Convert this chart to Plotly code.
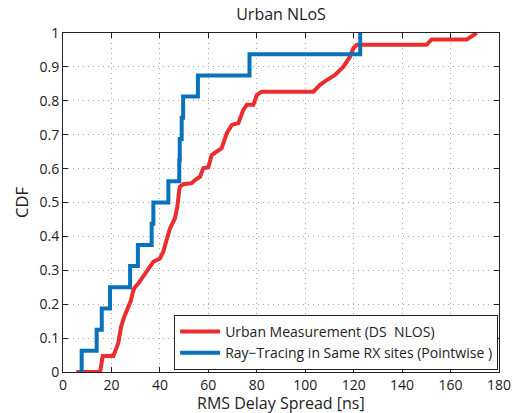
import plotly.graph_objects as go

# Measurement CDF (red) traced
meas_x = [5.5, 15.3, 16.4, 20.8, 22.8, 24.0, 25.3, 27.0, 28.0, 29.0, 29.7, 31.0, 32.5, 35.2, 37.3, 40.0, 41.4,
          42.8, 44.2, 46.2, 47.2, 48.0, 48.3, 49.7, 53.1, 54.5, 56.6, 57.9, 60.0, 61.4, 63.5, 65.5, 67.6, 69.7,
          72.4, 74.4, 75.9, 78.6, 80.0, 82.0, 103.4, 106.1, 108.9, 112.3, 115.7, 118.5, 119.9, 121.3, 150.1,
          152.2, 166.7, 169.4, 170.8]
meas_y = [0.0, 0.0, 0.047, 0.047, 0.085, 0.134, 0.163, 0.19, 0.21, 0.24, 0.25, 0.26, 0.276, 0.30, 0.325, 0.335,
          0.355, 0.39, 0.424, 0.453, 0.488, 0.537, 0.547, 0.554, 0.557, 0.566, 0.576, 0.601, 0.604, 0.64, 0.65,
          0.66, 0.704, 0.729, 0.734, 0.773, 0.788, 0.788, 0.817, 0.827, 0.827, 0.847, 0.861, 0.876, 0.90, 0.93,
          0.955, 0.965, 0.965, 0.981, 0.981, 0.992, 1.0]

# Ray tracing CDF (blue) step positions
ray_x = [7.7, 7.7, 13.9, 16.0, 19.4, 27.7, 30.9, 36.6, 37.3, 43.5, 48.0, 48.2, 49.0, 49.6, 55.7, 77.0, 122.7]
ray_y = [0.0, 0.0625, 0.125, 0.1875, 0.25, 0.3125, 0.375, 0.4375, 0.5, 0.5625, 0.625, 0.6875, 0.75,
         0.8125, 0.875, 0.9375, 1.0]

x_ticks = [0, 20, 40, 60, 80, 100, 120, 140, 160, 180]
y_ticks = [0, 0.1, 0.2, 0.3, 0.4, 0.5, 0.6, 0.7, 0.8, 0.9, 1]
y_labels = ["0", "0.1", "0.2", "0.3", "0.4", "0.5", "0.6", "0.7", "0.8", "0.9", "1"]

RED = "#EC2D2D"
BLUE = "#0A72BA"
FONT = "Open Sans"

fig = go.Figure()
fig.add_trace(go.Scatter(x=meas_x, y=meas_y, mode="lines", name="Urban Measurement (DS \u00a0NLOS)",
                         line=dict(color=RED, width=4)))
fig.add_trace(go.Scatter(x=ray_x, y=ray_y, mode="lines", line_shape="hv",
                         name="Ray\u2212Tracing in Same RX sites (Pointwise )",
                         line=dict(color=BLUE, width=4)))

axis_common = dict(showline=True, linecolor="#222", linewidth=1, mirror="ticks", ticks="inside",
                   ticklen=5, tickcolor="#222", showgrid=True, gridcolor="#a8a8a8", griddash="1px,4px",
                   gridwidth=1, zeroline=False, automargin=False,
                   tickfont=dict(family=FONT, size=14, color="#222"))

fig.update_xaxes(range=[0, 180], tickvals=x_ticks, ticktext=[str(v) for v in x_ticks], **axis_common)
fig.update_yaxes(range=[0, 1], tickvals=y_ticks, ticktext=y_labels,
                 title=dict(text="CDF", font=dict(family=FONT, size=16.5, color="#222"), standoff=6),
                 **axis_common)

# x-axis title as an annotation so it sits just below the tick labels
fig.add_annotation(text="RMS Delay Spread [ns]", xref="paper", yref="paper", x=0.5, xanchor="center",
                   y=-(416 - 372) / 339, yanchor="bottom", showarrow=False,
                   font=dict(family=FONT, size=16, color="#222"))

fig.update_layout(
    width=515, height=413,
    margin=dict(l=63, r=16, t=33, b=41, autoexpand=False),
    paper_bgcolor="white", plot_bgcolor="white",
    title=dict(text="Urban NLoS", x=(63 + 499) / 2 / 515, xanchor="center", y=1 - 14 / 413, yanchor="middle",
               font=dict(family=FONT, size=16, color="#222")),
    legend=dict(x=0.998, xanchor="right", y=0.006, yanchor="bottom", bgcolor="white",
                bordercolor="#222", borderwidth=1, font=dict(family=FONT, size=14, color="#222"),
                tracegroupgap=0, itemwidth=40),
    showlegend=True,
)

fig.write_html("out.html")
